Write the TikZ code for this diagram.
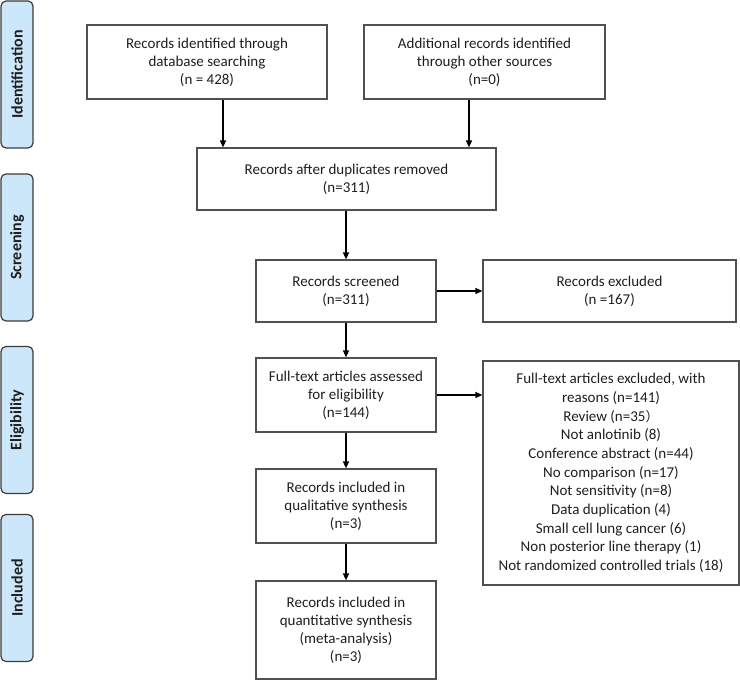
\documentclass[tikz,border=0pt]{standalone}
\usepackage{fontspec}
\setmainfont{Carlito}
\newfontfamily\cjk{Noto Sans CJK SC}
\usetikzlibrary{arrows.meta}
\definecolor{sidefill}{HTML}{CDE7FA}
\definecolor{sideline}{HTML}{3C3C3C}
\definecolor{boxline}{HTML}{505050}
\definecolor{txt}{HTML}{1E1E1E}
\begin{document}
\begin{tikzpicture}[x=1pt,y=1pt,
  box/.style={draw=boxline, line width=1.2pt, inner sep=0pt, align=center, text=txt,
    font=\fontsize{15}{18}\selectfont},
  side/.style={draw=sideline, fill=sidefill, line width=1.2pt, rounded corners=5pt,
    rotate=90, minimum width=147pt, minimum height=32pt, inner sep=0pt,
    font=\fontsize{16}{18}\selectfont\bfseries, text=txt},
  arr/.style={-{Triangle[length=7pt,width=6pt]}, line width=1.2pt, black}]
\useasboundingbox (0,0) rectangle (740,-680);
% side labels
\node[side] (sid) at (17,-74.5) {Identification};
\node[side] (ssc) at (17,-247.5) {Screening};
\node[side] (sel) at (17,-420) {Eligibility};
\node[side] (sin) at (17,-588) {Included};
% boxes
\node[box, minimum width=240pt, minimum height=74pt] (b1) at (207,-62)
  {Records identified through\\database searching\\(n = 428)};
\node[box, minimum width=241pt, minimum height=74pt] (b2) at (484.5,-62)
  {Additional records identified\\through other sources\\(n=0)};
\node[box, minimum width=299pt, minimum height=62pt] (b3) at (346.5,-179)
  {Records after duplicates removed\\(n=311)};
\node[box, minimum width=180pt, minimum height=62pt] (b4) at (346,-291)
  {Records screened\\(n=311)};
\node[box, minimum width=253pt, minimum height=62pt] (b5) at (609.5,-291)
  {Records excluded\\(n =167)};
\node[box, minimum width=180pt, minimum height=74pt] (b6) at (346,-395)
  {Full-text articles assessed\\for eligibility\\(n=144)};
\node[box, minimum width=180pt, minimum height=74pt] (b7) at (346,-506)
  {Records included in\\qualitative synthesis\\(n=3)};
\node[box, minimum width=180pt, minimum height=98pt] (b8) at (346,-630)
  {Records included in\\quantitative synthesis\\(meta-analysis)\\(n=3)};
\node[box, minimum width=256pt, minimum height=224pt,
  font=\fontsize{15}{18.7}\selectfont] (b9) at (611,-473)
  {Full-text articles excluded, with\\reasons (n=141)\\Review (n=35{\cjk\fontsize{13}{18.7}\selectfont ）}\\Not anlotinib (8)\\Conference abstract (n=44)\\No comparison (n=17)\\Not sensitivity (n=8)\\Data duplication (4)\\Small cell lung cancer (6)\\Non posterior line therapy (1)\\Not randomized controlled trials (18)};
% connectors
\draw[arr] (b1.south -| 223,0) -- (b3.north -| 223,0);
\draw[arr] (b2.south -| 469,0) -- (b3.north -| 469,0);
\draw[arr] (b3.south -| b4.north) -- (b4.north);
\draw[arr] (b4.east) -- (b5.west);
\draw[arr] (b4.south) -- (b6.north);
\draw[arr] (b6.east) -- (b6.east -| b9.west);
\draw[arr] (b6.south) -- (b7.north);
\draw[arr] (b7.south) -- (b8.north);
\end{tikzpicture}
\end{document}
